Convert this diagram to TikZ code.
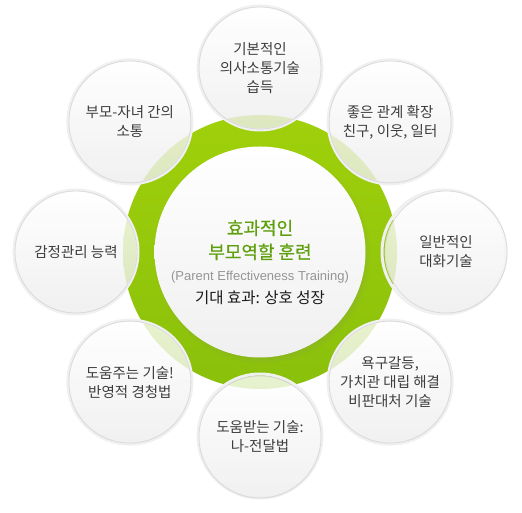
\documentclass[tikz,border=0pt]{standalone}
\usepackage{fontspec}
\setmainfont{Noto Sans CJK KR}
\newfontfamily\engfont{Liberation Sans}
\usetikzlibrary{shadows}
\definecolor{ringgreen}{HTML}{8FC80C}
\definecolor{titlegreen}{HTML}{5E9F0C}
\definecolor{petaltext}{HTML}{3D3D3D}
\definecolor{engtext}{HTML}{959595}
\begin{document}
\begin{tikzpicture}[x=1pt,y=1pt,
  petal/.style={circle, minimum size=122pt, inner sep=0pt, draw=black!15, line width=0.8pt,
    top color=white, bottom color=black!7, fill opacity=0.8, text opacity=1,
    align=center, font=\fontsize{14.5}{19}\selectfont, text=petaltext},
  petalshadow/.style={circle, minimum size=124pt, inner sep=0pt, draw=black!6, line width=3pt},
]
\useasboundingbox (0,0) rectangle (522,513);
\fill[white] (0,0) rectangle (522,513);
\node[circle, minimum size=274pt, inner sep=0pt, top color=ringgreen!85!yellow, bottom color=ringgreen!96!black] (ring) at (260,261) {};
\node[circle, minimum size=211pt, inner sep=0pt, top color=white, bottom color=black!6,
  circular drop shadow={shadow xshift=2pt, shadow yshift=-3pt, shadow scale=1.03, opacity=0.35}] (core) at (260,261) {};
\node[font=\fontsize{18}{24}\selectfont\addfontfeatures{FakeBold=0.6}, text=titlegreen, align=center] (title) at (260,273) {효과적인\\부모역할 훈련};
\node[font=\engfont\fontsize{13}{15}\selectfont, text=engtext] (eng) at (260,236) {(Parent Effectiveness Training)};
\node[font=\fontsize{15.5}{17}\selectfont, text=black!90] (expect) at (260,215) {기대 효과: 상호 성장};
\begin{scope}[shift={(260,261)}]
  \foreach \a in {90,45,0,-45,-90,-135,180,135}{
    \node[petalshadow] at (\a:184) {};
  }
  \node[petal] (p1) at (90:184) {기본적인\\의사소통기술\\습득};
  \node[petal] (p2) at (45:184) {좋은 관계 확장\\친구, 이웃, 일터};
  \node[petal] (p3) at (0:186) {일반적인\\대화기술};
  \node[petal] (p4) at (-45:184) {욕구갈등,\\가치관 대립 해결\\비판대처 기술};
  \node[petal] (p5) at (-90:185) {도움받는 기술:\\나-전달법};
  \node[petal] (p6) at (-135:184) {도움주는 기술!\\반영적 경청법};
  \node[petal] (p7) at (180:184) {감정관리 능력};
  \node[petal] (p8) at (135:184) {부모-자녀 간의\\소통};
\end{scope}
\end{tikzpicture}
\end{document}
